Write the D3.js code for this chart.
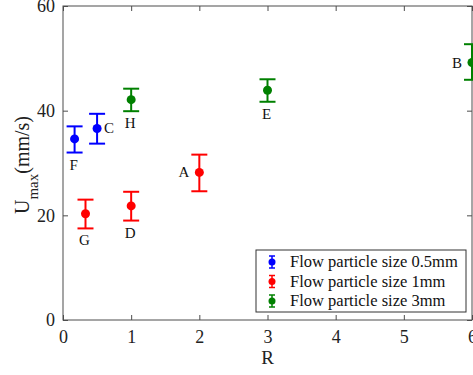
<!DOCTYPE html>
<html>
<head>
<meta charset="utf-8">
<script src="https://cdn.jsdelivr.net/npm/d3@7"></script>
<style>
  body { margin:0; background:#fff; }
  svg { display:block; }
  svg text { font-family:"Liberation Serif","Times New Roman",serif; }
</style>
</head>
<body>
<svg id="chart" width="473" height="375"></svg>
<script>
// data
const seriesNames = ["Flow particle size 0.5mm", "Flow particle size 1mm", "Flow particle size 3mm"];
const seriesColors = ["#0000ff", "#ff0000", "#008000"];

const labels  = ["F", "C", "G", "D", "A", "H", "E", "B"];
const series  = [0, 0, 1, 1, 1, 2, 2, 2];
const rValues = [0.17, 0.5, 0.33, 1.0, 2.0, 1.0, 3.0, 6.0];
const uValues = [34.6, 36.6, 20.3, 21.8, 28.2, 42.1, 43.9, 49.2];
const uLow    = [32.0, 33.7, 17.5, 19.0, 24.6, 39.9, 41.7, 45.9];
const uHigh   = [37.0, 39.4, 23.0, 24.5, 31.6, 44.2, 46.0, 52.7];
const labelSide = ["below", "right", "below", "below", "left", "below", "below", "left"];

const xTicks = [0, 1, 2, 3, 4, 5, 6];
const yTicks = [0, 20, 40, 60];

const svg = d3.select("#chart");
const plot = {left:63, right:472, top:6, bottom:320};

const x = d3.scaleLinear().domain([0, 6]).range([plot.left, plot.right]);
const y = d3.scaleLinear().domain([0, 60]).range([plot.bottom, plot.top]);

const axisColor = "#4d4d4d";
const tickLen = 5;
const serif = "Liberation Serif, Times New Roman, serif";

// box
svg.append("rect")
  .attr("x", plot.left).attr("y", plot.top)
  .attr("width", plot.right - plot.left).attr("height", plot.bottom - plot.top)
  .attr("fill", "none").attr("stroke", axisColor).attr("stroke-width", 1);

// axes with inward ticks
const xAxis = svg.append("g")
  .attr("transform", `translate(0,${plot.bottom})`)
  .call(d3.axisBottom(x).tickValues(xTicks).tickFormat(d3.format("d"))
    .tickSizeInner(-tickLen).tickSizeOuter(0).tickPadding(10));
const yAxis = svg.append("g")
  .attr("transform", `translate(${plot.left},0)`)
  .call(d3.axisLeft(y).tickValues(yTicks).tickFormat(d3.format("d"))
    .tickSizeInner(-tickLen).tickSizeOuter(0).tickPadding(8));
const xTop = svg.append("g")
  .attr("transform", `translate(0,${plot.top})`)
  .call(d3.axisTop(x).tickValues(xTicks).tickSizeInner(-tickLen).tickSizeOuter(0).tickFormat(""));
const yRight = svg.append("g")
  .attr("transform", `translate(${plot.right},0)`)
  .call(d3.axisRight(y).tickValues(yTicks).tickSizeInner(-tickLen).tickSizeOuter(0).tickFormat(""));

[xAxis, yAxis, xTop, yRight].forEach(g => {
  g.attr("font-family", serif).attr("font-size", 18);
  g.select(".domain").remove();
  g.selectAll("line").attr("stroke", axisColor);
  g.selectAll("text").attr("fill", "#222");
});

// axis titles
svg.append("text")
  .attr("x", x(3)).attr("y", 364)
  .attr("text-anchor", "middle")
  .attr("fill", "#222")
  .attr("font-family", serif)
  .attr("font-size", 19)
  .text("R");

const yTitle = svg.append("text")
  .attr("transform", "translate(29,165) rotate(-90)")
  .attr("text-anchor", "middle")
  .attr("fill", "#222")
  .attr("font-family", serif)
  .attr("font-size", 20);
yTitle.append("tspan").text("U");
yTitle.append("tspan").attr("dy", 9).attr("font-size", 15).text("max");
yTitle.append("tspan").attr("dy", -9).text("(mm/s)");

// error bars and points
const pts = d3.range(rValues.length);
const capW = 8;

const g = svg.append("g");
const eb = g.selectAll("g.pt")
  .data(pts)
  .join("g")
  .attr("class", "pt")
  .attr("stroke", i => seriesColors[series[i]])
  .attr("stroke-width", 2);

eb.append("line")
  .attr("x1", i => x(rValues[i])).attr("x2", i => x(rValues[i]))
  .attr("y1", i => y(uLow[i])).attr("y2", i => y(uHigh[i]));
eb.append("line")
  .attr("x1", i => x(rValues[i]) - capW).attr("x2", i => x(rValues[i]) + capW)
  .attr("y1", i => y(uLow[i])).attr("y2", i => y(uLow[i]));
eb.append("line")
  .attr("x1", i => x(rValues[i]) - capW).attr("x2", i => x(rValues[i]) + capW)
  .attr("y1", i => y(uHigh[i])).attr("y2", i => y(uHigh[i]));
eb.append("circle")
  .attr("cx", i => x(rValues[i])).attr("cy", i => y(uValues[i]))
  .attr("r", 4.5)
  .attr("stroke", "none")
  .attr("fill", i => seriesColors[series[i]]);

// point labels
g.selectAll("text.lbl")
  .data(pts)
  .join("text")
  .attr("class", "lbl")
  .attr("x", i => {
    const px = x(rValues[i]);
    if (labelSide[i] === "right") return px + 7;
    if (labelSide[i] === "left") return px - 10;
    return px - 1;
  })
  .attr("y", i => {
    if (labelSide[i] === "below") return y(uLow[i]) + 17;
    return y(uValues[i]) + 5;
  })
  .attr("text-anchor", i => labelSide[i] === "right" ? "start" : labelSide[i] === "left" ? "end" : "middle")
  .attr("fill", "#111")
  .attr("font-family", serif)
  .attr("font-size", 15)
  .text(i => labels[i]);

// legend
const leg = svg.append("g");
leg.append("rect")
  .attr("x", 256).attr("y", 250)
  .attr("width", 210).attr("height", 62)
  .attr("fill", "#fff").attr("stroke", "#333").attr("stroke-width", 1);

const legY = d3.scalePoint().domain(seriesNames).range([262, 301]);
const items = leg.selectAll("g.item")
  .data(seriesNames)
  .join("g")
  .attr("class", "item")
  .attr("transform", d => `translate(272,${legY(d)})`);

items.append("line")
  .attr("y1", -6).attr("y2", 6)
  .attr("stroke", (d, i) => seriesColors[i]).attr("stroke-width", 1.5);
items.append("line")
  .attr("x1", -3).attr("x2", 3).attr("y1", -6).attr("y2", -6)
  .attr("stroke", (d, i) => seriesColors[i]).attr("stroke-width", 1.5);
items.append("line")
  .attr("x1", -3).attr("x2", 3).attr("y1", 6).attr("y2", 6)
  .attr("stroke", (d, i) => seriesColors[i]).attr("stroke-width", 1.5);
items.append("circle")
  .attr("r", 3.5)
  .attr("fill", (d, i) => seriesColors[i]);
items.append("text")
  .attr("x", 18).attr("y", 5)
  .attr("fill", "#111")
  .attr("font-family", serif)
  .attr("font-size", 16.5)
  .text(d => d);
</script>
</body>
</html>
